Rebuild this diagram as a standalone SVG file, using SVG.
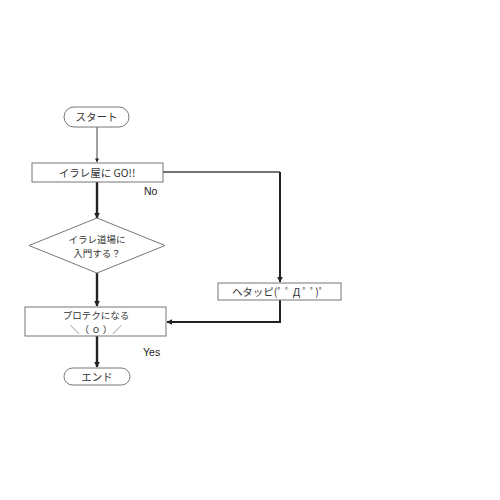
<svg xmlns="http://www.w3.org/2000/svg" width="500" height="500" viewBox="0 0 500 500">
<style>
.box{fill:#fff;stroke:#777;stroke-width:1}
.t{font-family:"Noto Sans CJK JP","Liberation Sans",sans-serif;font-size:10.5px;fill:#333;text-anchor:middle}
.t2{font-family:"Noto Sans CJK JP","Liberation Sans",sans-serif;font-size:9.5px;fill:#333;text-anchor:middle}
.lbl{font-family:"Liberation Sans",sans-serif;font-size:10.5px;fill:#222}
.thin{fill:none;stroke:#444;stroke-width:1}
.thick{fill:none;stroke:#222;stroke-width:2.4}
</style>
<defs>
<marker id="ah" viewBox="0 0 10 10" refX="9" refY="5" markerWidth="4" markerHeight="4" orient="auto" markerUnits="userSpaceOnUse">
<path d="M0,0 L10,5 L0,10 z" fill="#222"/>
</marker>
<marker id="ahb" viewBox="0 0 10 10" refX="9" refY="5" markerWidth="6" markerHeight="6" orient="auto" markerUnits="userSpaceOnUse">
<path d="M0,0 L10,5 L0,10 z" fill="#222"/>
</marker>
</defs>
<rect width="500" height="500" fill="#fff"/>
<g id="connectors">
<path class="thin" d="M97,127 V162" marker-end="url(#ah)"/>
<path class="thick" d="M97,182 V218" marker-end="url(#ahb)"/>
<path class="thick" d="M97,273 V306" marker-end="url(#ahb)"/>
<path class="thick" d="M97,336 V367" marker-end="url(#ahb)"/>
<path class="thin" d="M163,172 H280" style="stroke-width:1.5"/>
<path class="thick" d="M280,172 V282" style="stroke-width:2" marker-end="url(#ahb)"/>
<path class="thick" d="M280,300 V322 H167" style="stroke-width:2" marker-end="url(#ahb)"/>
<text class="lbl" x="144" y="195">No</text>
<text class="lbl" x="143" y="356">Yes</text>
</g>
<g id="start">
<rect class="box" x="64" y="107" width="65" height="20" rx="10"/>
<text class="t" x="96.5" y="121">スタート</text>
</g>
<g id="go">
<rect class="box" x="32" y="163" width="131" height="19"/>
<text class="t" x="97" y="176.5">イラレ屋に GO!!</text>
</g>
<g id="decision">
<polygon class="box" points="97,218 165,245.5 97,273 29,245.5"/>
<text class="t2" x="97" y="243">イラレ道場に</text>
<text class="t2" x="97" y="257">入門する？</text>
</g>
<g id="hetappi">
<rect class="box" x="218" y="283" width="123" height="17"/>
<text class="t" x="278" y="295.5">ヘタッピ(ﾟ ﾟ Д ﾟ ﾟ)ﾟ</text>
</g>
<g id="protect">
<rect class="box" x="25" y="307" width="141" height="29"/>
<text class="t2" x="96" y="319">プロテクになる</text>
<text class="t2" x="96" y="333">＼（ ｏ ）／</text>
</g>
<g id="end">
<rect class="box" x="64" y="368" width="66" height="17" rx="8.5"/>
<text class="t" x="97" y="380.5">エンド</text>
</g>
</svg>
